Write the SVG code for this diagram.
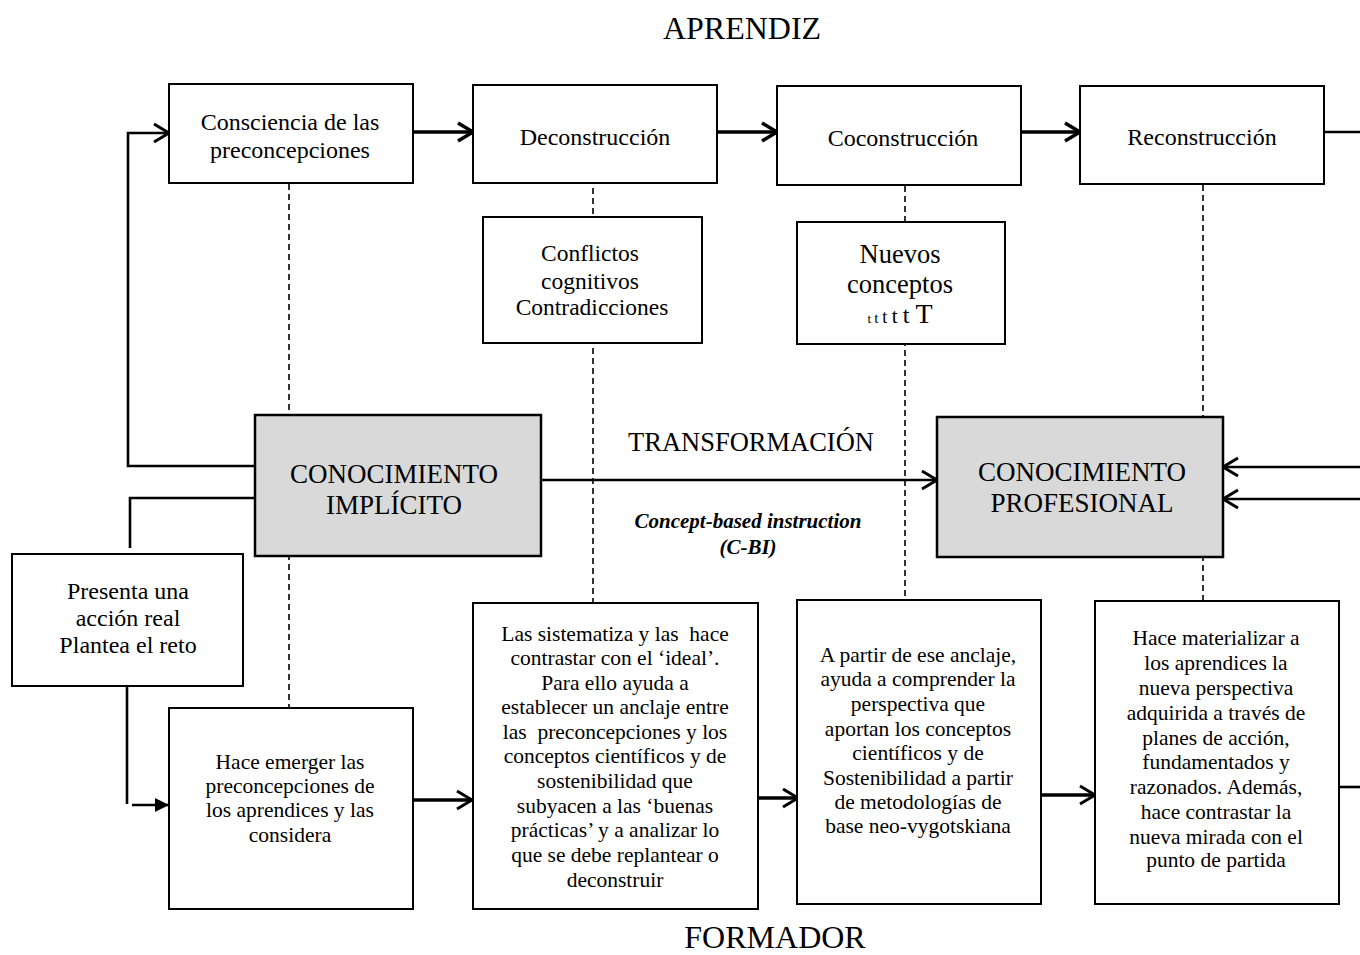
<svg xmlns="http://www.w3.org/2000/svg" width="1360" height="955" viewBox="0 0 1360 955">
<style>
text{font-family:"Liberation Serif","Times New Roman",serif;fill:#000;text-anchor:middle}
.box{fill:#fff;stroke:#000;stroke-width:2}
.gray{fill:#d9d9d9;stroke:#000;stroke-width:2.5}
.t24{font-size:24px}
.t21{font-size:21.5px}
.tk{font-size:27px}
.t32{font-size:32px}
.dash{stroke:#000;stroke-width:1.6;stroke-dasharray:6,4;fill:none}
.thick{stroke:#000;stroke-width:3.5;fill:none}
.mid{stroke:#000;stroke-width:2.6;fill:none}
.pre{white-space:pre}
</style>
<defs>
<marker id="chev" markerUnits="userSpaceOnUse" markerWidth="22" markerHeight="24" refX="18" refY="11" orient="auto">
<path d="M3,2 L18,11 L3,20" fill="none" stroke="#000" stroke-width="3.5"/>
</marker>
<marker id="chevs" markerUnits="userSpaceOnUse" markerWidth="22" markerHeight="24" refX="18" refY="11" orient="auto">
<path d="M3,2 L18,11 L3,20" fill="none" stroke="#000" stroke-width="3"/>
</marker>
<marker id="tri" markerUnits="userSpaceOnUse" markerWidth="16" markerHeight="14" refX="14" refY="7" orient="auto">
<path d="M0,0 L14,7 L0,14 Z" fill="#000"/>
</marker>
</defs>

<text class="t32" x="742" y="39">APRENDIZ</text>
<text class="t32" x="775" y="948">FORMADOR</text>

<g id="connectors">
<line class="dash" x1="289" y1="184" x2="289" y2="708"/>
<line class="dash" x1="593" y1="178" x2="593" y2="217"/>
<line class="dash" x1="593" y1="338" x2="593" y2="603"/>
<line class="dash" x1="905" y1="186" x2="905" y2="222"/>
<line class="dash" x1="905" y1="340" x2="905" y2="600"/>
<line class="dash" x1="1203" y1="185" x2="1203" y2="601"/>
<line class="thick" x1="413" y1="132" x2="473" y2="132" marker-end="url(#chev)"/>
<line class="thick" x1="717" y1="132" x2="777" y2="132" marker-end="url(#chev)"/>
<line class="thick" x1="1022" y1="132" x2="1080" y2="132" marker-end="url(#chev)"/>
<line class="mid" x1="1324" y1="132" x2="1360" y2="132"/>
<polyline class="mid" points="255,466 128,466 128,133 169,133" marker-end="url(#chevs)"/>
<polyline class="mid" points="255,498 130,498 130,548"/>
<polyline class="mid" points="127,686 127,804"/>
<line class="mid" x1="132" y1="805" x2="169" y2="805" marker-end="url(#tri)"/>
<line class="mid" x1="541" y1="480" x2="937" y2="480" marker-end="url(#chevs)"/>
<line class="mid" x1="1360" y1="467" x2="1223" y2="467" marker-end="url(#chevs)"/>
<line class="mid" x1="1360" y1="499" x2="1223" y2="499" marker-end="url(#chevs)"/>
<line class="thick" x1="413" y1="800" x2="472" y2="800" marker-end="url(#chevs)"/>
<line class="thick" x1="758" y1="798" x2="798" y2="798" marker-end="url(#chevs)"/>
<line class="thick" x1="1042" y1="795" x2="1095" y2="795" marker-end="url(#chevs)"/>
<line class="mid" x1="1339" y1="787" x2="1360" y2="787"/>
</g>

<g id="consciencia">
<rect class="box" x="169" y="84" width="244" height="99"/>
<text class="t24"><tspan x="290" y="130">Consciencia de las</tspan><tspan x="290" y="158">preconcepciones</tspan></text>
</g>
<g id="deconstruccion">
<rect class="box" x="473" y="85" width="244" height="98"/>
<text class="t24" x="595" y="145">Deconstrucción</text>
</g>
<g id="coconstruccion">
<rect class="box" x="777" y="86" width="244" height="99"/>
<text class="t24" x="903" y="146">Coconstrucción</text>
</g>
<g id="reconstruccion">
<rect class="box" x="1080" y="86" width="244" height="98"/>
<text class="t24" x="1202" y="145">Reconstrucción</text>
</g>
<g id="conflictos">
<rect class="box" x="483" y="217" width="219" height="126"/>
<text style="font-size:23.5px"><tspan x="590" y="261">Conflictos</tspan><tspan x="590" y="289">cognitivos</tspan><tspan x="592" y="315">Contradicciones</tspan></text>
</g>
<g id="nuevos">
<rect class="box" x="797" y="222" width="208" height="122"/>
<text style="font-size:26.5px"><tspan x="900" y="263">Nuevos</tspan><tspan x="900" y="293">conceptos</tspan></text>
<text x="900" y="323"><tspan style="font-size:13px">t </tspan><tspan style="font-size:15px">t </tspan><tspan style="font-size:18px">t </tspan><tspan style="font-size:21px">t </tspan><tspan style="font-size:24px">t </tspan><tspan style="font-size:28px">T</tspan></text>
</g>
<g id="implicito">
<rect class="gray" x="255" y="415" width="286" height="141"/>
<text class="tk"><tspan x="394" y="483">CONOCIMIENTO</tspan><tspan x="394" y="514">IMPLÍCITO</tspan></text>
</g>
<g id="profesional">
<rect class="gray" x="937" y="417" width="286" height="140"/>
<text class="tk"><tspan x="1082" y="481">CONOCIMIENTO</tspan><tspan x="1082" y="512">PROFESIONAL</tspan></text>
</g>
<text style="font-size:26.5px" x="751" y="451">TRANSFORMACIÓN</text>
<text style="font-size:21px;font-weight:bold;font-style:italic"><tspan x="748" y="528">Concept-based instruction</tspan><tspan x="748" y="554">(C-BI)</tspan></text>

<g id="presenta">
<rect class="box" x="12" y="554" width="231" height="132"/>
<text class="t24"><tspan x="128" y="599">Presenta una</tspan><tspan x="128" y="626">acción real</tspan><tspan x="128" y="653">Plantea el reto</tspan></text>
</g>
<g id="emerger">
<rect class="box" x="169" y="708" width="244" height="201"/>
<text class="t21"><tspan x="290" y="769">Hace emerger las</tspan><tspan x="290" y="793">preconcepciones de</tspan><tspan x="290" y="817">los aprendices y las</tspan><tspan x="290" y="842">considera</tspan></text>
</g>
<g id="sistematiza">
<rect class="box" x="473" y="603" width="285" height="306"/>
<text class="t21 pre"><tspan x="615" y="641">Las sistematiza y las  hace</tspan><tspan x="615" y="665">contrastar con el ‘ideal’.</tspan><tspan x="615" y="690">Para ello ayuda a</tspan><tspan x="615" y="714">establecer un anclaje entre</tspan><tspan x="615" y="739">las  preconcepciones y los</tspan><tspan x="615" y="763">conceptos científicos y de</tspan><tspan x="615" y="788">sostenibilidad que</tspan><tspan x="615" y="813">subyacen a las ‘buenas</tspan><tspan x="615" y="837">prácticas’ y a analizar lo</tspan><tspan x="615" y="862">que se debe replantear o</tspan><tspan x="615" y="887">deconstruir</tspan></text>
</g>
<g id="apartir">
<rect class="box" x="797" y="600" width="244" height="304"/>
<text class="t21"><tspan x="918" y="662">A partir de ese anclaje,</tspan><tspan x="918" y="686">ayuda a comprender la</tspan><tspan x="918" y="711">perspectiva que</tspan><tspan x="918" y="736">aportan los conceptos</tspan><tspan x="918" y="760">científicos y de</tspan><tspan x="918" y="785">Sostenibilidad a partir</tspan><tspan x="918" y="809">de metodologías de</tspan><tspan x="918" y="833">base neo-vygotskiana</tspan></text>
</g>
<g id="materializar">
<rect class="box" x="1095" y="601" width="244" height="303"/>
<text class="t21"><tspan x="1216" y="645">Hace materializar a</tspan><tspan x="1216" y="670">los aprendices la</tspan><tspan x="1216" y="695">nueva perspectiva</tspan><tspan x="1216" y="720">adquirida a través de</tspan><tspan x="1216" y="745">planes de acción,</tspan><tspan x="1216" y="769">fundamentados y</tspan><tspan x="1216" y="794">razonados. Además,</tspan><tspan x="1216" y="819">hace contrastar la</tspan><tspan x="1216" y="844">nueva mirada con el</tspan><tspan x="1216" y="867">punto de partida</tspan></text>
</g>
</svg>
